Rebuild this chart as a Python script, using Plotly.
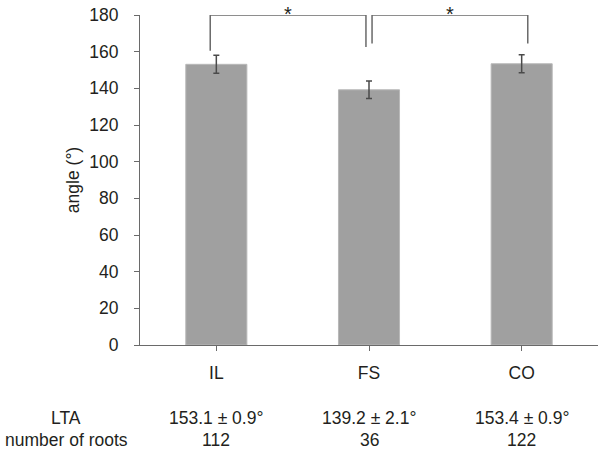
import plotly.graph_objects as go

categories = ["IL", "FS", "CO"]
angles = [153.1, 139.2, 153.4]
errors = [4.9, 4.8, 4.9]
lta_labels = ["153.1 ± 0.9°", "139.2 ± 2.1°", "153.4 ± 0.9°"]
root_counts = ["112", "36", "122"]
y_ticks = [0, 20, 40, 60, 80, 100, 120, 140, 160, 180]

# significance brackets: (x start, x end, y foot start, y foot end, y top)
brackets = [(-0.04, 0.98, 160.5, 162.5, 180), (1.02, 2.04, 164.5, 164.5, 180)]

TXT = "#231f20"
AX = "#6a6a6a"
FONT = "Liberation Sans, Arial, sans-serif"
FS = 17.5

fig = go.Figure()
fig.add_trace(go.Bar(
    x=[0, 1, 2], y=angles, width=0.4,
    marker=dict(color="#a0a0a0", line=dict(color="#b8b8b8", width=1)),
    error_y=dict(type="data", array=errors, visible=True, color="#4a4a4a",
                 thickness=1.5, width=3),
    showlegend=False, hoverinfo="skip",
))

for x0, x1, ya, yb, yt in brackets:
    fig.add_trace(go.Scatter(
        x=[x0, x0, x1, x1], y=[ya, yt, yt, yb], mode="lines",
        line=dict(color="#6a6a6a", width=1.5), showlegend=False,
        hoverinfo="skip", cliponaxis=False,
    ))
    fig.add_annotation(x=(x0 + x1) / 2, y=1, xref="x", yref="paper",
                       text="*", showarrow=False, yanchor="top", yshift=14,
                       font=dict(size=20, color=TXT, family=FONT))

fig.update_xaxes(
    range=[-0.5, 2.5], tickmode="array", tickvals=[0, 1, 2], ticktext=categories,
    tickson="boundaries", ticks="outside", ticklen=5, tickcolor=AX,
    showline=True, linecolor=AX, linewidth=1.2, showgrid=False, zeroline=False,
    tickfont=dict(size=FS, color=TXT, family=FONT), ticklabelstandoff=7,
    fixedrange=True,
)
fig.update_yaxes(
    range=[0, 180], tickvals=y_ticks, ticks="outside", ticklen=5, tickcolor=AX,
    showline=True, linecolor=AX, linewidth=1.2, showgrid=False, zeroline=False,
    tickfont=dict(size=FS, color=TXT, family=FONT), ticklabelstandoff=12,
)

fig.add_annotation(x=-0.146, y=0.5, xref="paper", yref="paper", text="angle (°)",
                   textangle=-90, showarrow=False, xanchor="center", yanchor="middle",
                   font=dict(size=FS, color=TXT, family=FONT))

row_y = [-0.221, -0.288]
fig.add_annotation(x=-0.161, y=row_y[0], xref="paper", yref="paper", text="LTA",
                   showarrow=False, xanchor="center", yanchor="middle",
                   font=dict(size=FS, color=TXT, family=FONT))
fig.add_annotation(x=-0.161, y=row_y[1], xref="paper", yref="paper", text="number of roots",
                   showarrow=False, xanchor="center", yanchor="middle",
                   font=dict(size=FS, color=TXT, family=FONT))
for i in range(3):
    fig.add_annotation(x=i, y=row_y[0], xref="x", yref="paper", text=lta_labels[i],
                       showarrow=False, xanchor="center", yanchor="middle",
                       font=dict(size=FS, color=TXT, family=FONT))
    fig.add_annotation(x=i, y=row_y[1], xref="x", yref="paper", text=root_counts[i],
                       showarrow=False, xanchor="center", yanchor="middle",
                       font=dict(size=FS, color=TXT, family=FONT))

fig.update_layout(
    width=600, height=453,
    margin=dict(l=140, r=2, t=15, b=108, autoexpand=False),
    plot_bgcolor="white", paper_bgcolor="white",
    font=dict(family=FONT, color=TXT),
)

# remove the browser's default 8px page margin so the figure fills the window
fig.write_html("out.html", config={"displayModeBar": False},
               post_script="document.body.style.margin='0px';document.body.style.overflow='hidden';")
